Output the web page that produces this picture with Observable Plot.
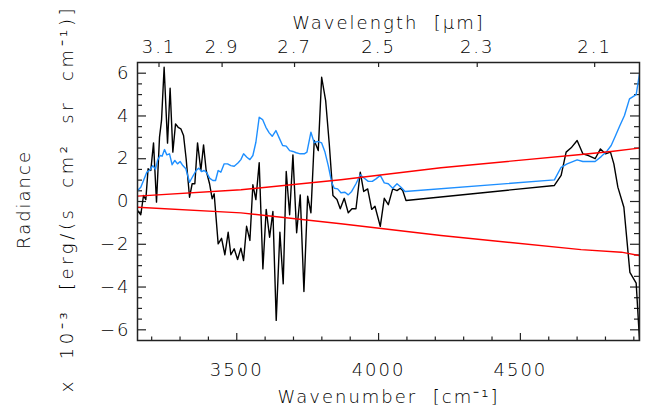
<!DOCTYPE html>
<html><head><meta charset="utf-8">
<script src="https://cdn.jsdelivr.net/npm/d3@7"></script>
<script src="https://cdn.jsdelivr.net/npm/@observablehq/plot@0.6"></script>
<style>body{margin:0;background:#fff} svg{display:block}</style>
</head><body><div id="chart"></div>
<script>
// ---- data (wavenumber in cm^-1, radiance in 1e-3 erg/(s cm2 sr cm-1)) ----
const blackWn = [3150,3161.6,3171.2,3179.3,3187.4,3196.9,3206.5,3217,3227.6,3234.7,3243.9,3255.9,3265,3274.6,3284.1,3293.3,3302.8,3312.3,3321.5,3333.5,3342.7,3352.2,3361.7,3373.4,3382.9,3392.1,3404.1,3413.2,3420.3,3434.4,3446.4,3458.1,3469.7,3479.2,3490.9,3502.9,3514.5,3524,3534.6,3546.3,3556.8,3567.4,3579.1,3592.1,3603.8,3615.8,3627.4,3639.1,3652.1,3663.8,3674.4,3686.4,3698,3711.1,3723.8,3736.8,3749.9,3761.5,3773.2,3787.3,3799.3,3813.4,3826.1,3839.1,3853.3,3864.9,3879,3893.1,3906.2,3920.3,3935.5,3947.5,3961.6,3975.7,3987.3,4006,4020.1,4034.3,4049.8,4065,4076.6,4085.1,4096.7,4620,4643.7,4661.3,4679,4700.1,4720.2,4740,4763.6,4782.3,4800,4817.6,4829.6,4843.7,4864.9,4886.1,4908.3,4921];
const blackVal = [-0.42,-0.62,0.28,0.09,1.53,1.45,2.74,-0.03,3.01,3.79,6.28,2.73,5.3,2.31,3.63,3.47,3.4,3.09,2.0,0.2,0.83,0.83,2.74,1.45,2.65,1.45,0.83,0.13,0.36,-1.98,-1.72,-2.49,-1.44,-2.49,-2.21,-2.71,-2.18,-2.76,-1.16,-1.82,0.78,0.09,1.81,-3.15,-0.37,-1.67,-0.47,-5.56,-1.44,-3.85,1.4,-0.62,2.18,-1.46,0.31,-4.21,0.25,-0.53,2.85,2.38,5.81,4.72,2.7,0.28,0.09,-0.34,0.15,-0.53,-0.34,-0.34,1.37,0.47,0.59,-0.37,-0.22,-1.16,0.15,-0.15,0.59,0.51,0.62,0.51,0.05,0.75,1.22,2.31,2.51,2.85,2.23,2.15,2.0,2.46,2.23,2.31,1.76,0.67,-0.27,-3.31,-3.82,-6.7];

const blueWn = [3150,3161.6,3171.2,3182.8,3192.3,3204,3213.5,3220.6,3229.7,3236.8,3245.3,3253.4,3262.9,3272.1,3281.6,3291.1,3300.3,3309.8,3320.4,3333.5,3345.1,3356.8,3366.3,3375.8,3385,3394.5,3404.1,3415.7,3425.2,3434.4,3443.9,3455.6,3467.6,3479.2,3490.9,3505,3514.5,3524,3535.7,3546.3,3556.8,3567.4,3579.1,3591.1,3602.7,3614.4,3625,3638,3651.1,3661.7,3674.4,3686.4,3698,3709.6,3723.8,3737.9,3747.4,3761.5,3773.2,3785.1,3799.3,3811,3822.6,3834.6,3843.7,3855.7,3867.4,3881.5,3893.1,3905.1,3920.3,3935.5,3949.6,3963.7,3977.8,3990.9,4006,4020.1,4034.3,4049.8,4065,4079.1,4093.2,4620,4643.7,4664.8,4700.1,4720.2,4763.6,4784.8,4802.5,4820.1,4834.2,4849.4,4867,4884.7,4908.3,4920];
const blueVal = [0.51,0.67,0.98,1.37,1.45,1.68,1.5,1.92,2.15,2.12,2.43,2.18,2.23,1.72,1.92,1.76,1.87,1.68,1.53,0.9,1.18,1.45,1.56,1.4,1.45,1.34,1.09,0.98,0.98,1.45,1.37,1.76,1.76,1.68,1.65,1.81,1.96,2.23,2.07,1.96,2.15,2.77,3.94,3.83,3.47,3.21,3.05,3.32,2.93,2.62,2.59,2.38,2.34,2.28,2.23,2.23,2.31,3.24,2.74,2.81,2.74,2.31,1.68,0.9,0.62,0.59,0.41,0.43,0.31,0.47,0.83,1.25,1.09,0.94,0.94,1.06,1.22,0.87,0.83,0.62,0.83,0.67,0.47,1.01,1.6,1.76,1.95,1.87,1.87,2.1,2.31,2.62,3.04,3.51,4.02,4.8,5.0,5.97];

const upperWn = [3150,3515,3867,4220,4714,4820,4920];
const upperVal = [0.25,0.55,1.02,1.58,2.2,2.34,2.5];
const lowerWn = [3150,3515,3867,4220,4714,4856,4920];
const lowerVal = [-0.27,-0.53,-1.04,-1.59,-2.25,-2.37,-2.53];

// ---- axes ----
const xDomain = [3150, 4920];
const yDomain = [-6.5, 6.5];
const xMajor = [3500, 4000, 4500];
const xMinor = d3.range(3200, 4901, 100).filter(v => v % 500 !== 0);
const yMajor = [-6, -4, -2, 0, 2, 4, 6];
const yMinor = d3.range(-6, 6.01, 0.5).filter(v => v % 2 !== 0);
const wavelengthTicks = [3.1, 2.9, 2.7, 2.5, 2.3, 2.1];

const W = 650, H = 411, mL = 137, mR = 11, mT = 62, mB = 71;
const pw = W - mL - mR, ph = H - mT - mB;
const axisColor = "#222";
const font = "DejaVu Sans";

const chart = Plot.plot({
  width: W, height: H,
  marginLeft: mL, marginRight: mR, marginTop: mT, marginBottom: mB,
  style: {fontFamily: font, fontSize: "18px", fontWeight: "200", letterSpacing: "2px", color: "#000", background: "#fff"},
  x: {domain: xDomain, axis: null},
  y: {domain: yDomain, axis: null},
  marks: [
    // tick labels
    Plot.axisX({anchor: "bottom", ticks: xMajor, tickSize: 0, tickPadding: 23, tickFormat: d => String(d), fontSize: 18, fill: "#000"}),
    Plot.axisX({anchor: "top", ticks: wavelengthTicks.map(l => 1e4 / l), tickSize: 0, tickPadding: 10, tickFormat: d => (1e4 / d).toFixed(1), fontSize: 18, fill: "#000"}),
    Plot.axisY({anchor: "left", ticks: yMajor, tickSize: 0, tickPadding: 7, tickFormat: d => d < 0 ? "\u2212" + (-d) : String(d), fontSize: 18, fill: "#000"}),
    // inward ticks
    Plot.ruleX(xMajor, {x: d => d, insetTop: ph - 7, stroke: axisColor, strokeWidth: 1.2}),
    Plot.ruleX(xMinor, {x: d => d, insetTop: ph - 3.5, stroke: axisColor, strokeWidth: 1.2}),
    Plot.ruleX(wavelengthTicks, {x: l => 1e4 / l, insetBottom: ph - 5, stroke: axisColor, strokeWidth: 1.2}),
    Plot.ruleY(yMajor, {y: d => d, insetRight: pw - 9, stroke: axisColor, strokeWidth: 1.2}),
    Plot.ruleY(yMinor, {y: d => d, insetRight: pw - 5, stroke: axisColor, strokeWidth: 1.2}),
    Plot.ruleY(yMajor, {y: d => d, insetLeft: pw - 9, stroke: axisColor, strokeWidth: 1.2}),
    Plot.ruleY(yMinor, {y: d => d, insetLeft: pw - 5, stroke: axisColor, strokeWidth: 1.2}),
    // data
    Plot.line(blackVal, {x: blackWn, y: blackVal, stroke: "#000", strokeWidth: 1.4, clip: true}),
    Plot.line(blueVal, {x: blueWn, y: blueVal, stroke: "#1e8fff", strokeWidth: 1.4, clip: true}),
    Plot.line(upperVal, {x: upperWn, y: upperVal, stroke: "#ff0000", strokeWidth: 1.4, clip: true}),
    Plot.line(lowerVal, {x: lowerWn, y: lowerVal, stroke: "#ff0000", strokeWidth: 1.4, clip: true}),
    Plot.frame({stroke: axisColor, strokeWidth: 1.5}),
    // titles
    Plot.text(["Wavelength  [\u03bcm]"], {text: d => d, frameAnchor: "top", dy: -34, lineAnchor: "bottom", fontSize: 18, fill: "#000"}),
    Plot.text(["Wavenumber  [cm\u207b\u00b9]"], {text: d => d, frameAnchor: "bottom", dy: 62, lineAnchor: "bottom", fontSize: 18, fill: "#000"}),
    Plot.text(["Radiance"], {text: d => d, frameAnchor: "left", textAnchor: "middle", dx: -113, dy: -2, rotate: -90, lineAnchor: "middle", fontSize: 18, fill: "#000"}),
    Plot.text(["x  10\u207b\u00b3  [erg/(s  cm\u00b2  sr  cm\u207b\u00b9)]"], {text: d => d, frameAnchor: "left", textAnchor: "middle", dx: -70, dy: -3, rotate: -90, lineAnchor: "middle", fontSize: 18, fill: "#000", className: "ytitle2"})
  ]
});
chart.querySelectorAll("text").forEach(t => t.setAttribute("xml:space", "preserve"));
chart.querySelectorAll(".ytitle2 text").forEach(t => t.style.letterSpacing = "3.6px");
chart.style.whiteSpace = "pre";
document.getElementById("chart").append(chart);
</script></body></html>
